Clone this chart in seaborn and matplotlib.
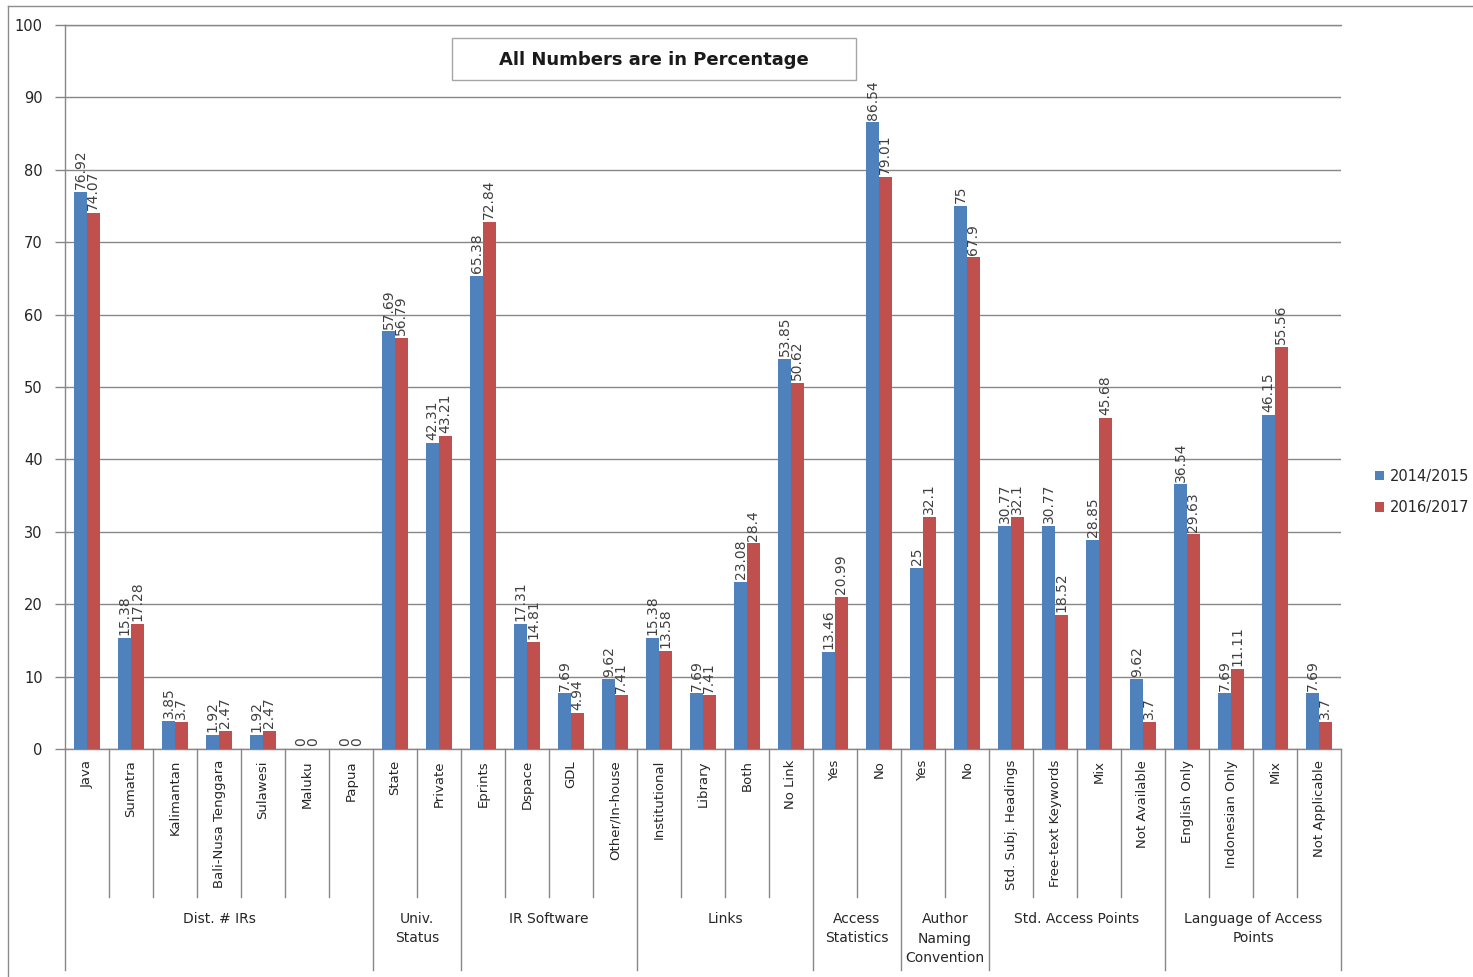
import matplotlib
matplotlib.use("Agg")
import matplotlib.pyplot as plt
import matplotlib.patches as mpatches
from matplotlib.lines import Line2D
import numpy as np
import pandas as pd
import seaborn as sns

# ---- data -------------------------------------------------------------
categories = [
    "Java", "Sumatra", "Kalimantan", "Bali-Nusa Tenggara", "Sulawesi", "Maluku", "Papua",
    "State", "Private",
    "Eprints", "Dspace", "GDL", "Other/In-house",
    "Institutional", "Library", "Both", "No Link",
    "Yes", "No",
    "Yes", "No",
    "Std. Subj. Headings", "Free-text Keywords", "Mix", "Not Available",
    "English Only", "Indonesian Only", "Mix", "Not Applicable",
]
values_2014_2015 = [76.92, 15.38, 3.85, 1.92, 1.92, 0, 0,
                    57.69, 42.31,
                    65.38, 17.31, 7.69, 9.62,
                    15.38, 7.69, 23.08, 53.85,
                    13.46, 86.54,
                    25, 75,
                    30.77, 30.77, 28.85, 9.62,
                    36.54, 7.69, 46.15, 7.69]
values_2016_2017 = [74.07, 17.28, 3.7, 2.47, 2.47, 0, 0,
                    56.79, 43.21,
                    72.84, 14.81, 4.94, 7.41,
                    13.58, 7.41, 28.4, 50.62,
                    20.99, 79.01,
                    32.1, 67.9,
                    32.1, 18.52, 45.68, 3.7,
                    29.63, 11.11, 55.56, 3.7]
periods = ["2014/2015", "2016/2017"]
groups = ["Dist. # IRs", "Univ.\nStatus", "IR Software", "Links", "Access\nStatistics",
          "Author\nNaming\nConvention", "Std. Access Points", "Language of Access\nPoints"]
group_sizes = [7, 2, 4, 4, 2, 2, 4, 4]

BLUE = "#4F81BD"
RED = "#C0504D"
GRID = "#878787"
TEXT = "#262626"
NARROW = ["Liberation Sans Narrow", "DejaVu Sans"]

# ---- long-form table ---------------------------------------------------
keys = [f"{i:02d}" for i in range(len(categories))]
df = pd.DataFrame({
    "key": keys * 2,
    "value": values_2014_2015 + values_2016_2017,
    "period": [periods[0]] * len(keys) + [periods[1]] * len(keys),
})

W, H = 1473, 977
fig = plt.figure(figsize=(W / 100, H / 100), dpi=100)
ax_left, ax_right, ax_top, ax_bottom = 65, 1341, 25, 749
ax = fig.add_axes([ax_left / W, 1 - ax_bottom / H,
                   (ax_right - ax_left) / W, (ax_bottom - ax_top) / H])

sns.barplot(data=df, x="key", y="value", hue="period", order=keys,
            hue_order=periods, palette=[BLUE, RED], saturation=1,
            width=2 / 3.5, gap=0, errorbar=None, legend=False, ax=ax,
            zorder=3)

# value labels above each bar
for cont, vals in zip(ax.containers, [values_2014_2015, values_2016_2017]):
    ax.bar_label(cont, labels=[f"{v:g}" for v in vals], rotation=90,
                 padding=2, fontsize=10, color="#404040", family=NARROW)

# ---- axes styling ------------------------------------------------------
ax.set_ylim(0, 100)
ax.set_xlim(-0.5, len(keys) - 0.5)
ax.set_yticks(np.arange(0, 101, 10))
ax.yaxis.grid(True, color=GRID, lw=1, zorder=0)
ax.set_axisbelow(True)
ax.set_xlabel("")
ax.set_ylabel("")
ax.spines["right"].set_visible(False)
for s in ["left", "bottom", "top"]:
    ax.spines[s].set_color(GRID)
    ax.spines[s].set_linewidth(1)
ax.tick_params(axis="y", length=7, width=1, color=GRID, labelsize=10.5,
               labelcolor=TEXT, pad=9)
ax.set_xticks(range(len(keys)))
ax.set_xticklabels(categories, rotation=90, fontsize=9.5, color=TEXT)
ax.tick_params(axis="x", length=0, pad=8)

# ---- multi-level category axis ---------------------------------------
axh = ax_bottom - ax_top
xt = ax.get_xaxis_transform()
boundaries = np.cumsum([0] + group_sizes)
for k in range(len(keys) + 1):
    long_line = k in boundaries
    depth = (221 if long_line else 148) / axh
    ax.add_line(Line2D([k - 0.5, k - 0.5], [0, -depth], transform=xt,
                       color=GRID, lw=1, clip_on=False))

for g, start, n in zip(groups, boundaries[:-1], group_sizes):
    center = start + (n - 1) / 2
    ax.text(center, -163 / axh, g, transform=xt, ha="center", va="top",
            fontsize=10, color=TEXT, linespacing=1.5, multialignment="center")

# ---- title box ---------------------------------------------------------
fig.add_artist(mpatches.Rectangle((452 / W, 1 - 80 / H), 404 / W, 42 / H,
                                  transform=fig.transFigure, facecolor="white",
                                  edgecolor="#a6a6a6", lw=1, zorder=5))
fig.text(654 / W, 1 - 60 / H, "All Numbers are in Percentage", ha="center",
         va="center", fontsize=13, fontweight="bold", color="#1a1a1a", zorder=6)

# ---- legend -------------------------------------------------------------
handles = [mpatches.Patch(facecolor=BLUE, edgecolor="none"),
           mpatches.Patch(facecolor=RED, edgecolor="none")]
fig.legend(handles, periods, loc="center left",
           bbox_to_anchor=(1362 / W, 1 - 492 / H), frameon=False,
           fontsize=10.5, handlelength=0.6, handleheight=0.6,
           handletextpad=0.4, labelspacing=1.1, labelcolor=TEXT)

# ---- outer chart border ------------------------------------------------
fig.add_artist(Line2D([8 / W, 8 / W], [0, 1 - 6 / H], transform=fig.transFigure,
                      color="#8c8c8c", lw=1))
fig.add_artist(Line2D([8 / W, 1], [1 - 6 / H, 1 - 6 / H], transform=fig.transFigure,
                      color="#8c8c8c", lw=1))

fig.savefig("out.png", dpi=100, facecolor="white")
